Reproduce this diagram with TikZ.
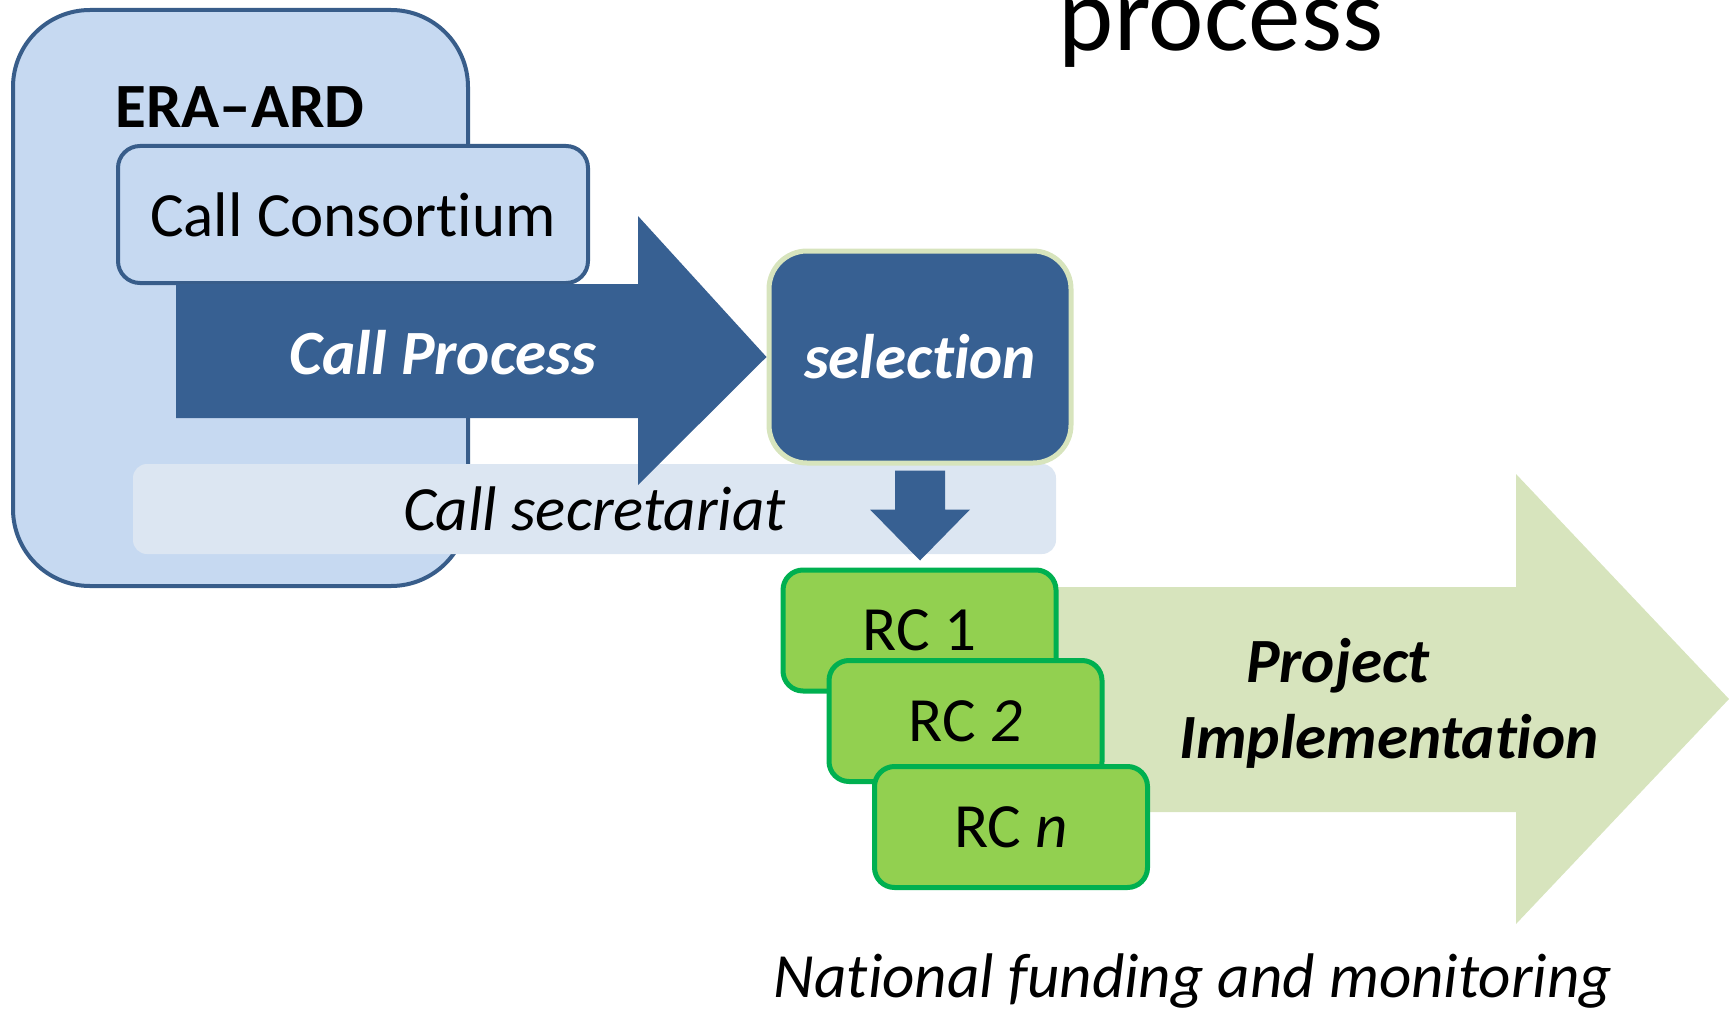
\documentclass[tikz,border=0pt]{standalone}
\usepackage{fontspec}
\setmainfont{Carlito}[Ligatures={CommonOff,ContextualOff},RawFeature={-liga;-clig;-calt}]
\usetikzlibrary{positioning}
\usetikzlibrary{calc}
\definecolor{eraFill}{HTML}{C6D9F1}
\definecolor{eraLine}{HTML}{385D8A}
\definecolor{callBlue}{HTML}{376092}
\definecolor{secFill}{HTML}{DCE6F2}
\definecolor{implFill}{HTML}{D7E4BD}
\definecolor{rcFill}{HTML}{92D050}
\definecolor{rcLine}{HTML}{00B050}

\begin{document}
\begin{tikzpicture}[x=0.5pt,y=-0.5pt,
		bigtext/.style={font=\fontsize{31.5}{38}\selectfont},
		blbox/.style={rectangle,rounded corners=11pt,draw=eraLine,fill=eraFill,line width=2pt,bigtext},
		rcbox/.style={rectangle,rounded corners=10pt,draw=rcLine,fill=rcFill,line width=2.5pt,minimum width=136.5pt,minimum height=60.5pt,bigtext}]
		\useasboundingbox (0,0) rectangle (1729,1011);
		\clip (0,0) rectangle (1729,1011);
		\node[font=\fontsize{52.5}{60}\selectfont,anchor=base] (title) at (1221,51) {process};
		% ERA-ARD and the call
		\node[blbox,rounded corners=38.5pt,minimum width=227.5pt,minimum height=288pt] (era) at (240.5,298) {};
		\node[bigtext,anchor=base] (eralabel) at (240,127) {\bfseries ERA–ARD};
		\node[blbox,minimum width=235pt,minimum height=68.5pt] (cons) at (353,214.5) {Call Consortium};
		\node[rectangle,rounded corners=7pt,fill=secFill,minimum width=461.5pt,minimum height=45pt,bigtext] (sec) at (594.5,509) {\itshape Call secretariat};
		\node[rectangle,rounded corners=19pt,fill=callBlue,draw=implFill,line width=2.5pt,minimum width=151pt,minimum height=106pt,bigtext,text=white] (sel) at (920,357) {\bfseries\itshape selection};
		\fill[callBlue] (176,284) -- (638,284) -- (638,216) -- (sel.west) -- (638,485) -- (638,418) -- (176,418) -- cycle;
		\node[bigtext,text=white,anchor=base] (cp) at (443,374) {\bfseries\itshape Call Process};
		\fill[callBlue] ($(sel.south)+(-25,5)$) -- ($(sel.south)+(25,5)$) -- ($(sel.south)+(25,44)$) -- ($(sel.south)+(50,44)$) -- ($(sel.south)+(0,95)$) -- ($(sel.south)+(-50,44)$) -- ($(sel.south)+(-25,44)$) -- cycle;
		% implementation
		\fill[implFill] (900,587) -- (1516,587) -- (1516,474) -- (1729,699) -- (1516,924) -- (1516,812) -- (900,812) -- cycle;
		\node[bigtext,align=center] (impl) at (1389,703) {\bfseries\itshape Project\hspace*{51pt}\\\bfseries\itshape Implementation};
		\node[rcbox] (rc1) at (919.5,630.5) {RC 1};
		\node[rcbox] (rc2) at ($(rc1)+(46,90.5)$) {RC \textit{2}};
		\node[rcbox] (rcn) at ($(rc2)+(45.5,106)$) {RC \textit{n}};
		\node[bigtext,anchor=base] (nat) at (1193,997) {\itshape National funding and monitoring};
	\end{tikzpicture}
\end{document}
